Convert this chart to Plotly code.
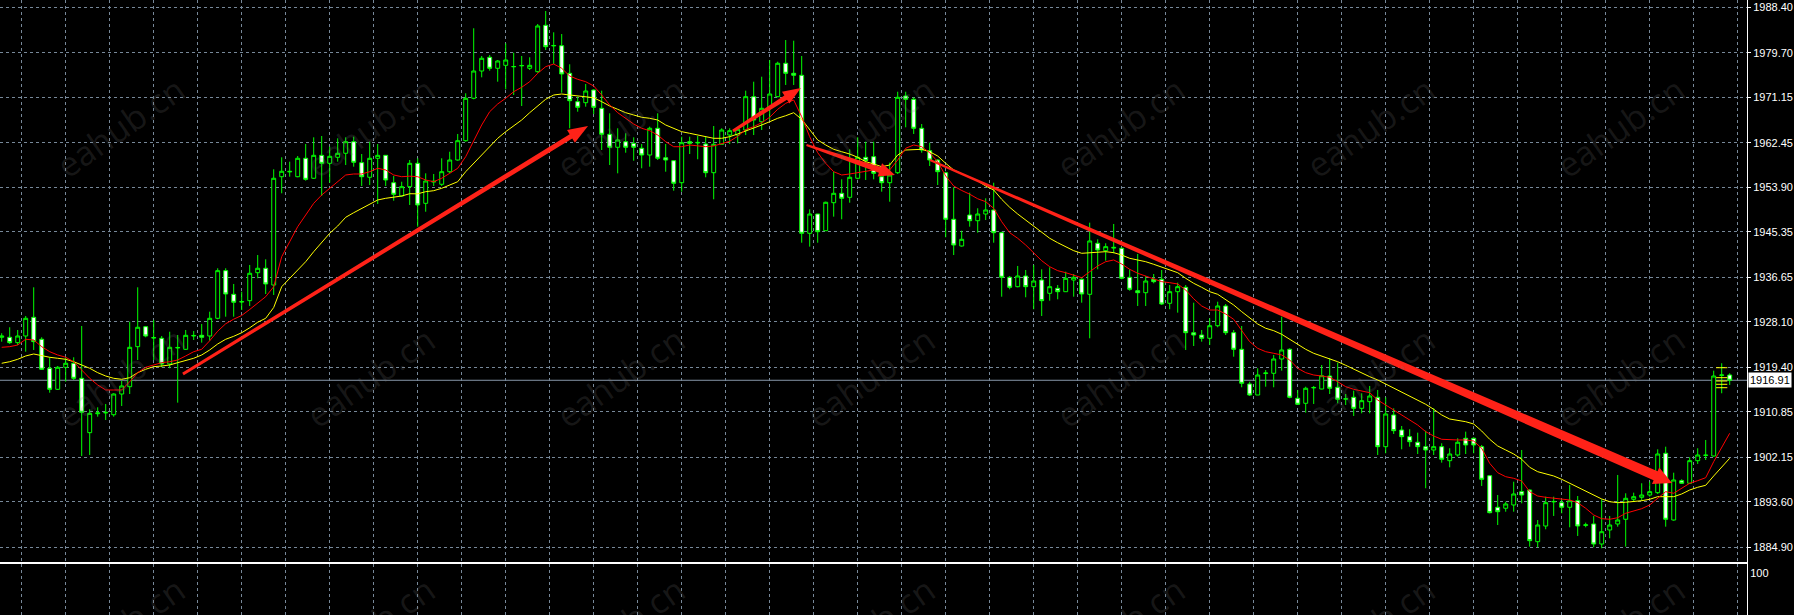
import math
import plotly.graph_objects as go

# ---------------- data ----------------
opens = [
1925.15,1925.15,1924.12,1925.40,1928.98,1924.77,1919.21,1915.18,1919.40,1920.17,
1917.29,1906.87,1910.50,1910.65,1910.31,1914.28,1915.68,1923.35,1927.18,1925.00,
1924.96,1920.03,1923.10,1922.85,1925.40,1925.53,1925.40,1928.79,1937.92,1933.39,
1931.90,1932.17,1937.53,1938.38,1935.17,1955.93,1956.85,1955.93,1959.46,1955.63,
1960.03,1958.50,1959.65,1960.42,1962.64,1958.62,1955.82,1959.46,1960.03,1954.78,
1952.23,1954.02,1958.50,1950.83,1954.90,1954.48,1956.89,1959.13,1962.83,1970.96,
1976.19,1978.82,1976.71,1977.28,1977.00,1977.18,1976.71,1976.06,1984.95,1981.00,
1981.04,1975.75,1970.31,1970.12,1972.55,1969.04,1964.06,1961.57,1962.64,1962.33,
1961.38,1960.09,1965.21,1959.57,1959.00,1954.78,1962.64,1962.40,1962.20,1956.70,
1962.14,1963.92,1963.92,1964.88,1971.27,1966.47,1969.04,1971.27,1977.67,1975.75,
1975.37,1945.08,1948.78,1945.58,1950.95,1952.75,1951.98,1955.63,1959.65,1959.77,
1955.93,1954.78,1956.70,1971.40,1970.77,1965.21,1960.92,1959.13,1956.70,1947.77,
1942.65,1948.59,1947.50,1948.78,1949.55,1945.20,1936.65,1934.85,1936.90,1934.85,
1936.13,1933.58,1934.54,1933.89,1936.13,1936.27,1933.39,1943.17,1941.75,1942.25,
1942.21,1936.65,1934.08,1933.70,1936.27,1936.27,1931.67,1933.89,1934.73,1926.03,
1925.59,1924.96,1927.37,1931.15,1926.03,1922.85,1916.20,1914.09,1918.20,1918.25,
1920.99,1922.85,1913.46,1912.50,1915.45,1915.24,1917.73,1915.57,1913.30,1913.65,
1911.54,1912.81,1913.65,1904.18,1910.26,1907.38,1906.10,1905.03,1904.18,1903.55,
1904.18,1901.50,1902.59,1905.79,1905.79,1904.18,1898.62,1892.57,1892.38,1893.01,
1895.56,1895.88,1885.97,1888.98,1893.60,1893.45,1892.57,1893.83,1889.10,1889.37,
1885.53,1888.22,1889.37,1890.27,1894.10,1894.48,1894.92,1895.37,1902.92,1890.13,
1897.67,1897.17,1901.50,1902.50,1902.40,1917.85,1917.92]
highs = [
1925.92,1927.07,1926.55,1929.23,1934.73,1925.15,1921.32,1919.65,1921.32,1921.32,
1927.32,1911.35,1911.73,1912.37,1914.42,1916.83,1928.14,1934.73,1927.32,1928.47,
1925.40,1926.22,1925.59,1926.55,1926.36,1927.70,1930.06,1938.38,1938.38,1935.37,
1933.89,1939.01,1940.92,1940.10,1957.35,1959.65,1958.81,1959.90,1962.20,1963.48,
1963.73,1961.68,1963.29,1963.48,1963.60,1960.28,1962.64,1962.20,1960.03,1956.07,
1954.97,1959.13,1959.46,1956.58,1956.45,1959.46,1960.72,1964.12,1971.92,1984.38,
1979.07,1979.26,1978.30,1981.50,1979.70,1979.07,1978.82,1985.20,1987.69,1983.61,
1983.28,1977.48,1971.27,1973.70,1972.68,1972.42,1968.08,1965.21,1964.25,1963.48,
1962.20,1965.52,1968.08,1962.20,1959.13,1963.60,1963.60,1963.73,1963.60,1965.65,
1965.21,1965.21,1965.21,1972.42,1974.14,1975.10,1978.30,1977.97,1982.13,1982.00,
1979.07,1949.68,1948.78,1951.14,1956.89,1955.43,1961.18,1963.48,1962.64,1962.64,
1957.08,1958.62,1972.22,1972.22,1971.15,1966.03,1962.45,1959.27,1956.89,1953.90,
1945.58,1952.87,1949.88,1951.79,1954.78,1945.39,1936.90,1938.82,1938.05,1939.01,
1938.18,1938.57,1935.17,1937.72,1937.28,1936.46,1947.12,1943.93,1943.17,1946.87,
1942.40,1938.18,1941.12,1936.90,1937.28,1938.05,1935.17,1935.62,1935.17,1931.78,
1926.55,1928.79,1931.97,1931.53,1926.55,1927.32,1916.64,1919.21,1918.88,1921.76,
1929.10,1923.04,1915.05,1915.68,1915.82,1919.84,1921.13,1920.28,1914.28,1914.92,
1914.42,1915.82,1915.05,1913.65,1911.54,1908.15,1907.52,1906.87,1907.25,1911.54,
1904.83,1903.88,1905.79,1907.06,1905.98,1904.51,1898.76,1894.92,1893.64,1897.47,
1903.55,1896.02,1890.13,1894.60,1894.60,1894.10,1896.84,1894.73,1889.62,1890.90,
1894.10,1890.90,1898.76,1895.25,1895.37,1897.17,1897.47,1903.68,1904.18,1899.20,
1897.93,1902.15,1903.88,1905.47,1918.75,1920.17,1918.25]
lows = [
1924.31,1923.87,1923.67,1922.39,1922.72,1918.88,1914.53,1915.05,1916.64,1916.97,
1902.40,1902.59,1909.93,1909.30,1909.93,1911.98,1914.28,1920.80,1925.15,1920.80,
1919.40,1919.21,1912.62,1922.72,1924.63,1924.12,1924.50,1928.60,1929.10,1929.10,
1930.38,1931.15,1936.46,1933.45,1933.26,1952.75,1955.93,1955.82,1955.17,1955.49,
1952.23,1954.78,1958.81,1958.17,1957.85,1954.15,1954.34,1950.70,1954.15,1951.33,
1952.10,1950.51,1946.35,1949.22,1954.15,1954.15,1956.58,1959.00,1962.64,1970.77,
1974.98,1976.25,1974.14,1972.68,1971.59,1969.48,1976.38,1975.87,1980.22,1977.53,
1972.03,1965.21,1968.39,1969.35,1967.95,1961.05,1958.17,1956.58,1960.53,1959.00,
1957.54,1957.85,1959.13,1956.89,1953.25,1953.06,1960.28,1959.27,1955.82,1951.60,
1962.14,1962.20,1962.33,1963.92,1963.92,1964.88,1966.80,1971.15,1973.51,1973.51,
1943.28,1942.52,1943.28,1945.58,1948.27,1947.77,1950.95,1955.43,1955.30,1955.43,
1953.06,1951.14,1956.45,1965.40,1964.12,1960.53,1957.98,1954.34,1944.32,1940.92,
1942.52,1946.35,1945.20,1947.63,1943.28,1932.93,1934.35,1934.73,1932.82,1930.52,
1929.23,1932.17,1932.43,1933.89,1932.93,1931.78,1924.96,1938.18,1939.83,1941.25,
1936.27,1934.08,1931.15,1931.15,1935.50,1931.34,1930.52,1929.87,1922.72,1923.48,
1924.31,1923.67,1927.07,1925.59,1921.43,1915.57,1913.90,1914.09,1915.68,1915.57,
1918.75,1913.46,1912.17,1910.70,1912.37,1915.18,1914.28,1912.50,1912.17,1910.07,
1910.58,1910.58,1902.59,1902.92,1906.62,1903.68,1904.18,1902.78,1896.21,1902.59,
1901.12,1900.23,1902.27,1902.78,1902.92,1896.65,1891.40,1889.17,1891.72,1891.72,
1893.33,1885.02,1884.90,1888.35,1890.90,1891.42,1888.73,1887.07,1888.73,1884.90,
1884.71,1886.63,1888.85,1885.02,1893.64,1893.83,1894.60,1895.12,1888.85,1890.00,
1897.03,1897.17,1900.87,1901.63,1902.27,1914.42,1916.01]
closes = [
1925.40,1924.12,1925.40,1928.79,1924.31,1919.02,1915.18,1919.40,1920.17,1917.29,
1910.78,1910.58,1910.65,1910.75,1914.28,1915.82,1923.23,1927.07,1925.40,1925.10,
1920.03,1923.23,1923.20,1925.53,1925.50,1925.15,1928.79,1937.92,1933.45,1931.86,
1932.00,1937.42,1938.38,1935.37,1955.63,1956.97,1956.95,1959.46,1955.43,1960.03,
1958.50,1959.84,1960.42,1962.64,1958.69,1955.93,1959.46,1960.03,1955.30,1952.56,
1954.02,1958.50,1950.51,1955.11,1955.05,1956.89,1959.13,1962.83,1970.96,1976.19,
1978.63,1976.71,1978.11,1978.30,1977.05,1977.24,1977.28,1984.82,1980.85,1981.08,
1975.62,1970.50,1969.23,1972.36,1969.23,1964.06,1961.57,1962.97,1961.57,1961.57,
1960.09,1965.21,1959.46,1959.13,1954.67,1962.45,1962.33,1962.50,1956.70,1962.14,
1964.88,1964.75,1965.02,1971.27,1966.80,1969.04,1971.78,1977.67,1975.75,1975.37,
1945.08,1948.78,1945.39,1951.03,1952.75,1951.79,1955.82,1959.65,1959.00,1956.58,
1954.78,1956.26,1971.15,1970.77,1965.21,1961.05,1959.13,1956.89,1947.77,1942.84,
1943.93,1947.50,1948.78,1949.55,1945.20,1936.65,1934.73,1936.90,1934.85,1935.94,
1932.17,1934.85,1933.89,1936.46,1936.65,1933.45,1943.61,1941.88,1942.52,1942.38,
1936.46,1934.35,1933.70,1935.94,1935.81,1931.53,1933.89,1934.85,1926.03,1925.59,
1924.96,1927.37,1931.15,1926.03,1922.85,1916.33,1914.09,1917.92,1918.30,1920.99,
1922.72,1913.65,1912.31,1915.38,1915.53,1917.79,1915.38,1913.27,1913.36,1911.54,
1913.00,1913.90,1904.18,1910.45,1907.25,1906.10,1905.14,1904.18,1903.55,1904.18,
1901.77,1902.78,1905.03,1904.51,1904.51,1897.93,1891.53,1891.72,1893.20,1895.12,
1894.92,1886.17,1889.17,1893.45,1893.68,1892.57,1893.83,1888.98,1889.20,1885.53,
1887.89,1889.17,1890.13,1894.29,1894.60,1894.92,1895.56,1902.78,1890.27,1897.80,
1897.17,1901.50,1902.59,1902.56,1917.73,1917.92,1916.91]
ma_red = [
1923.23,1923.35,1923.67,1924.77,1924.63,1923.35,1922.39,1921.76,1921.32,1920.47,
1918.88,1917.29,1916.01,1915.05,1915.05,1915.05,1916.64,1918.37,1919.40,1919.84,
1920.28,1920.47,1920.80,1921.57,1922.39,1922.85,1924.48,1926.32,1927.74,1928.62,
1929.33,1930.48,1931.76,1932.93,1934.85,1940.60,1943.47,1946.35,1948.59,1950.83,
1952.42,1953.71,1954.97,1956.26,1956.45,1956.45,1956.89,1957.54,1957.22,1956.26,
1955.93,1956.03,1955.93,1955.30,1954.97,1955.63,1956.58,1957.54,1959.77,1962.97,
1965.84,1968.39,1969.87,1970.96,1972.22,1973.07,1974.14,1975.75,1977.02,1977.53,
1976.71,1975.23,1974.60,1974.14,1973.32,1971.59,1969.67,1968.20,1967.13,1966.03,
1965.21,1964.75,1963.92,1962.64,1961.68,1961.68,1962.01,1961.82,1961.68,1961.82,
1962.33,1962.72,1963.68,1964.98,1965.52,1966.28,1967.32,1968.85,1970.00,1970.63,
1967.43,1963.60,1960.53,1958.50,1956.89,1956.26,1956.45,1956.70,1956.89,1957.22,
1956.89,1957.22,1959.13,1961.38,1962.01,1961.68,1960.53,1958.81,1956.07,1954.15,
1953.29,1952.58,1951.70,1951.14,1949.88,1947.31,1945.20,1944.13,1942.84,1941.25,
1939.83,1938.68,1937.92,1937.53,1937.09,1936.57,1937.72,1938.82,1939.64,1939.97,
1939.20,1938.18,1937.42,1936.90,1936.27,1935.81,1935.62,1935.37,1934.22,1932.53,
1931.15,1930.38,1930.38,1929.62,1928.60,1926.55,1924.31,1923.04,1922.39,1922.08,
1921.76,1920.80,1919.21,1918.37,1917.92,1917.73,1917.48,1916.64,1915.68,1915.18,
1914.92,1914.53,1913.13,1912.17,1911.22,1910.16,1909.36,1908.34,1907.06,1906.23,
1905.60,1905.47,1905.47,1905.47,1905.27,1903.88,1901.00,1899.20,1898.43,1898.12,
1897.61,1895.56,1894.73,1894.48,1894.29,1894.10,1893.97,1893.45,1892.38,1891.09,
1890.38,1890.27,1890.57,1891.42,1891.92,1892.30,1893.01,1894.29,1895.56,1895.25,
1896.21,1897.17,1897.67,1898.24,1901.31,1904.18,1906.75]
ma_yellow = [
1920.17,1920.47,1920.93,1921.57,1921.95,1921.57,1921.32,1921.13,1920.93,1920.47,
1919.84,1919.21,1918.37,1917.73,1917.29,1917.10,1917.41,1918.37,1919.02,1919.52,
1919.65,1919.84,1920.28,1920.67,1921.13,1921.76,1922.72,1923.87,1924.77,1925.34,
1926.03,1926.97,1928.04,1928.79,1930.86,1934.85,1936.46,1938.05,1939.64,1941.56,
1943.28,1945.08,1946.48,1948.15,1949.03,1949.88,1950.70,1951.47,1951.79,1951.98,
1952.23,1952.67,1952.65,1953.06,1953.25,1953.71,1954.34,1954.97,1956.89,1958.50,
1960.09,1961.68,1963.29,1964.56,1965.65,1966.80,1968.20,1969.48,1970.77,1971.59,
1971.78,1971.59,1971.40,1971.15,1971.07,1970.31,1969.48,1968.85,1968.20,1967.76,
1967.32,1967.13,1966.80,1965.84,1965.21,1964.56,1964.25,1963.92,1963.60,1963.29,
1963.29,1963.60,1964.12,1964.65,1965.21,1965.84,1966.47,1967.13,1967.62,1968.20,
1966.93,1964.88,1962.97,1962.01,1961.18,1960.72,1960.28,1959.65,1958.81,1958.37,
1957.85,1958.17,1960.09,1961.05,1961.18,1961.18,1960.72,1959.90,1958.50,1957.22,
1956.51,1955.78,1955.11,1954.15,1953.38,1951.60,1950.07,1948.78,1947.63,1946.48,
1945.20,1944.13,1943.28,1942.52,1941.75,1941.25,1941.37,1941.56,1941.56,1941.37,
1940.92,1940.29,1939.97,1939.64,1939.14,1938.57,1938.05,1937.53,1936.46,1935.50,
1934.73,1933.89,1933.39,1932.43,1931.34,1930.06,1928.79,1927.70,1926.88,1926.42,
1925.73,1924.77,1923.67,1922.85,1922.08,1921.57,1921.05,1920.47,1919.78,1919.02,
1918.37,1917.60,1916.97,1916.20,1915.38,1914.53,1913.90,1913.13,1912.31,1911.35,
1910.26,1909.49,1909.30,1908.97,1908.53,1907.19,1905.60,1904.32,1903.55,1902.78,
1901.77,1900.23,1899.39,1898.95,1898.57,1897.93,1897.17,1896.40,1895.56,1894.79,
1894.16,1893.64,1893.45,1893.53,1893.64,1893.83,1894.10,1894.60,1894.60,1894.60,
1895.12,1895.88,1896.40,1896.78,1898.57,1900.35,1901.96]

price_ticks = [1988.40, 1979.70, 1971.15, 1962.45, 1953.90, 1945.35, 1936.65,
               1928.10, 1919.40, 1910.85, 1902.15, 1893.60, 1884.90]
price_tick_labels = ["1988.40", "1979.70", "1971.15", "1962.45", "1953.90", "1945.35",
                     "1936.65", "1928.10", "1919.40", "1910.85", "1902.15", "1893.60", "1884.90"]
last_price = 1916.91
last_price_label = "1916.91"
sub_tick_label = "100"
marker_bar = 215
marker_levels = [1919.32, 1917.41, 1916.77, 1916.14, 1915.49]

# hand-drawn arrows: (start bar, start price) -> (end bar, end price)
arrow_starts = [(22.66, 1918.12), (91.41, 1964.69), (100.6, 1962.01), (116.04, 1959.13)]
arrow_ends = [(73.29, 1965.65), (99.9, 1972.93), (111.66, 1956.26), (208.8, 1897.23)]

watermark_text = "eahub.cn"

# ---------------- layout geometry ----------------
W, H = 1794, 615
PLOT_W = 1747
MAIN_H = 562
SUB_TOP = 564
x_range = [-0.2125, 218.1625]
y_range = [1882.08, 1989.80]
bars = list(range(len(closes)))

GRID = "#778899"
LIME = "#00ff00"


def to_px(x, p):
    px = (x - x_range[0]) / (x_range[1] - x_range[0]) * PLOT_W
    py = (y_range[1] - p) / (y_range[1] - y_range[0]) * MAIN_H
    return px, py


def to_data(px, py):
    x = x_range[0] + px / PLOT_W * (x_range[1] - x_range[0])
    p = y_range[1] - py / MAIN_H * (y_range[1] - y_range[0])
    return x, p


def arrow_path(start, end, w0, w1, hl, hw):
    x0, y0 = to_px(*start)
    x1, y1 = to_px(*end)
    dx, dy = x1 - x0, y1 - y0
    L = math.hypot(dx, dy)
    ux, uy = dx / L, dy / L
    nx, ny = -uy, ux
    bx, by = x1 - ux * hl, y1 - uy * hl
    pts = [
        (x0 + nx * w0 / 2, y0 + ny * w0 / 2),
        (bx + nx * w1 / 2, by + ny * w1 / 2),
        (bx + nx * hw / 2, by + ny * hw / 2),
        (x1, y1),
        (bx - nx * hw / 2, by - ny * hw / 2),
        (bx - nx * w1 / 2, by - ny * w1 / 2),
        (x0 - nx * w0 / 2, y0 - ny * w0 / 2),
    ]
    d = [to_data(a, b) for a, b in pts]
    return "M " + " L ".join(f"{a:.4f},{b:.4f}" for a, b in d) + " Z"


fig = go.Figure()

fig.add_trace(go.Candlestick(
    x=bars, open=opens, high=highs, low=lows, close=closes,
    increasing=dict(fillcolor="black", line=dict(color=LIME, width=1)),
    decreasing=dict(fillcolor="white", line=dict(color=LIME, width=1)),
    whiskerwidth=0, showlegend=False, hoverinfo="skip",
    xaxis="x", yaxis="y",
))
fig.add_trace(go.Scatter(x=bars, y=ma_yellow, mode="lines",
                         line=dict(color="#ffff00", width=1), showlegend=False,
                         hoverinfo="skip", xaxis="x", yaxis="y"))
fig.add_trace(go.Scatter(x=bars, y=ma_red, mode="lines",
                         line=dict(color="#ff0000", width=1), showlegend=False,
                         hoverinfo="skip", xaxis="x", yaxis="y"))
fig.add_trace(go.Scatter(x=[marker_bar] * len(marker_levels), y=marker_levels, mode="markers",
                         marker=dict(symbol="line-ew", size=8,
                                     line=dict(color="#ffff00", width=1)),
                         showlegend=False, hoverinfo="skip", xaxis="x", yaxis="y"))
# empty trace so the sub-window axes render
fig.add_trace(go.Scatter(x=[bars[0]], y=[-10], mode="markers", marker=dict(size=1, color="black"),
                         showlegend=False, hoverinfo="skip", xaxis="x2", yaxis="y2"))

shapes = []
# current price line
shapes.append(dict(type="line", xref="paper", yref="y", x0=0, x1=1, y0=last_price, y1=last_price,
                   line=dict(color="#8796a8", width=1), layer="below"))
# arrows
arrow_styles = [(3, 5, 20, 15), (3, 5, 18, 14), (2, 6, 16, 14), (2, 10, 18, 18)]
for s, e, st in zip(arrow_starts, arrow_ends, arrow_styles):
    shapes.append(dict(type="path", xref="x", yref="y", path=arrow_path(s, e, *st),
                       fillcolor="#ff2218", line=dict(width=0), layer="above"))

annotations = []
# watermarks
for cx in [120, 370, 620, 870, 1120, 1370, 1620]:
    for cy in [127, 377, 627]:
        annotations.append(dict(text=watermark_text, xref="paper", yref="paper",
                                x=cx / PLOT_W, y=1 - cy / H, showarrow=False,
                                xanchor="center", yanchor="middle",
                                textangle=-35,
                                font=dict(family="Open Sans", size=34,
                                          color="rgba(120,120,120,0.20)")))
# price label
annotations.append(dict(text=last_price_label, xref="paper", yref="y", x=1.0005, y=last_price,
                        xanchor="left", yanchor="middle", showarrow=False,
                        bgcolor="white", borderpad=1,
                        font=dict(family="Liberation Sans", size=11, color="black")))

vgrid = [2.45 + 5.5 * k for k in range(40)]
main_bottom = (H - MAIN_H) / H
sub_top = (H - SUB_TOP) / H
sub_hi = 100 * (H - SUB_TOP) / (H - SUB_TOP - 9)

axis_font = dict(family="Liberation Sans", size=11, color="white")

fig.update_layout(
    width=W, height=H,
    margin=dict(l=0, r=W - PLOT_W, t=0, b=0),
    paper_bgcolor="black", plot_bgcolor="black",
    showlegend=False,
    xaxis=dict(domain=[0, 1], range=x_range, anchor="y",
               tickvals=vgrid, showticklabels=False, ticks="",
               showgrid=True, gridcolor=GRID, griddash="3px,3px", gridwidth=1,
               showline=True, linecolor="white", linewidth=1, mirror=False,
               zeroline=False, rangeslider=dict(visible=False), fixedrange=True),
    yaxis=dict(domain=[main_bottom, 1], range=y_range, anchor="x", side="right",
               tickvals=price_ticks, ticktext=price_tick_labels,
               ticks="outside", ticklen=3, tickcolor="white",
               tickfont=axis_font,
               showgrid=True, gridcolor=GRID, griddash="3px,3px", gridwidth=1,
               showline=True, linecolor="white", linewidth=1,
               zeroline=False, fixedrange=True),
    xaxis2=dict(domain=[0, 1], range=x_range, anchor="y2", matches="x",
                tickvals=vgrid, showticklabels=False, ticks="",
                showgrid=True, gridcolor=GRID, griddash="3px,3px", gridwidth=1,
                showline=True, linecolor="white", linewidth=1, mirror=True,
                zeroline=False, fixedrange=True),
    yaxis2=dict(domain=[0, sub_top], range=[0, sub_hi], anchor="x2", side="right",
                tickvals=[100], ticktext=[sub_tick_label], ticks="", ticklen=0,
                tickfont=axis_font, showgrid=False,
                showline=True, linecolor="white", linewidth=1,
                zeroline=False, fixedrange=True),
    shapes=shapes,
    annotations=annotations,
)

fig.write_html("out.html", config={"displayModeBar": False},
               post_script="document.body.style.margin='0';document.body.style.overflow='hidden';")
